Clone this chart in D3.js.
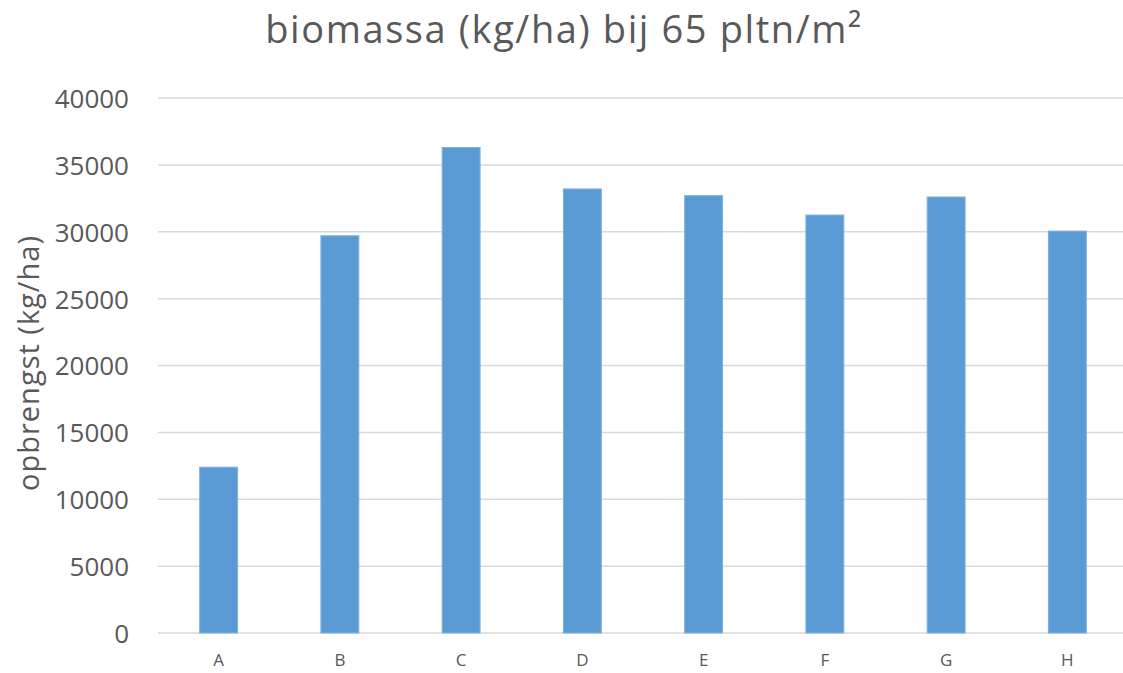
<!DOCTYPE html>
<html>
<head>
<meta charset="utf-8">
<script src="https://cdn.jsdelivr.net/npm/d3@7"></script>
<style>
  html, body { margin: 0; padding: 0; background: #fff; }
  svg { display: block; }
  text { font-family: "Open Sans", "Noto Sans", sans-serif; fill: #595959; }
</style>
</head>
<body>
<svg id="chart" width="1123" height="673"></svg>
<script>
const categories = ["A", "B", "C", "D", "E", "F", "G", "H"];
const values = [12400, 29700, 36300, 33200, 32700, 31250, 32600, 30050];
const yTicks = [0, 5000, 10000, 15000, 20000, 25000, 30000, 35000, 40000];
const title = "biomassa (kg/ha) bij 65 pltn/m²";
const yLabel = "opbrengst (kg/ha)";

const svg = d3.select("#chart");
const W = 1123, H = 673;
const plotLeft = 158, plotRight = 1128, plotTop = 98, plotBottom = 633;

const x = d3.scaleBand().domain(categories).range([plotLeft, plotRight])
  .paddingInner(0.687).paddingOuter(0.3435);
const y = d3.scaleLinear().domain([0, 40000]).range([plotBottom, plotTop]);

// gridlines
svg.append("g").selectAll("line").data(yTicks).join("line")
  .attr("x1", plotLeft).attr("x2", W)
  .attr("y1", d => y(d)).attr("y2", d => y(d))
  .attr("stroke", "#d9d9d9").attr("stroke-width", 1.5);

// y axis labels
const yAxis = d3.axisLeft(y).tickValues(yTicks).tickSize(0).tickPadding(0).tickFormat(d3.format("d"));
const gy = svg.append("g").attr("transform", `translate(129,0)`).call(yAxis);
gy.select(".domain").remove();
gy.selectAll("text").style("font-size", "26px").style("fill", "#595959")
  .style("font-family", '"Open Sans", sans-serif').attr("dy", "0.36em");

// bars
svg.append("g").selectAll("rect").data(values).join("rect")
  .attr("x", (d, i) => x(categories[i]))
  .attr("width", x.bandwidth())
  .attr("y", d => y(d))
  .attr("height", d => y(0) - y(d))
  .attr("fill", "#5B9BD5")
  .attr("stroke", "#7fb2e0").attr("stroke-width", 1);

// x axis labels
const xAxis = d3.axisBottom(x).tickSize(0).tickPadding(0);
const gx = svg.append("g").attr("transform", `translate(0,${plotBottom})`).call(xAxis);
gx.select(".domain").remove();
gx.selectAll("text").style("font-size", "17px").style("fill", "#595959")
  .style("font-family", '"Open Sans", sans-serif').attr("y", 21).attr("dy", "0.71em");

// title
svg.append("text").attr("x", 564).attr("y", 43)
  .attr("text-anchor", "middle").style("font-size", "38px")
  .style("letter-spacing", "1.6px").text(title);

// y label
svg.append("text").attr("transform", `translate(39,363) rotate(-90)`)
  .attr("text-anchor", "middle").style("font-size", "29px")
  .style("letter-spacing", "1px").text(yLabel);
</script>
</body>
</html>
